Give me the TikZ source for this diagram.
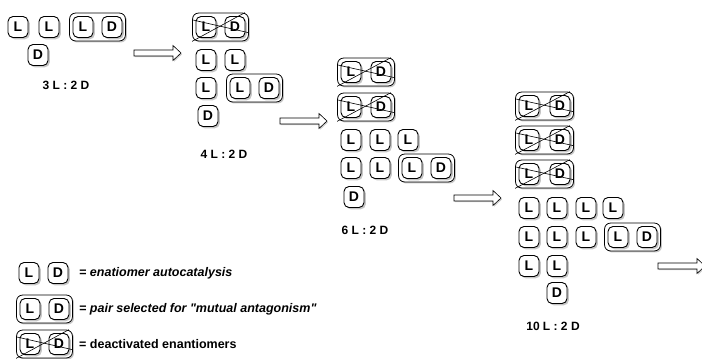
\documentclass[tikz,border=0pt]{standalone}
\usepackage{fontspec}
\setmainfont{Liberation Sans}
\usetikzlibrary{shadows,fit,backgrounds,calc}

\begin{document}
\begin{tikzpicture}[x=1pt,y=-1pt,
    en/.style={draw,line width=0.9pt,rounded corners=5pt,fill=white,
      minimum width=20pt,minimum height=21pt,inner sep=0pt,
      font=\fontsize{14}{14}\selectfont\bfseries,
      drop shadow={shadow xshift=1.8pt,shadow yshift=-1.8pt,opacity=0.45}},
    pair/.style={draw,line width=0.8pt,rounded corners=6pt,fill=white,inner sep=3pt,
      drop shadow={shadow xshift=1.5pt,shadow yshift=-1.5pt,opacity=0.45}},
    ratio/.style={font=\fontsize{12}{14}\selectfont\bfseries},
    keytext/.style={anchor=west,inner sep=0pt,font=\fontsize{12.5}{14}\selectfont\bfseries},
    flow/.style={draw,line width=0.6pt,fill=white,line join=miter,
      drop shadow={shadow xshift=1.2pt,shadow yshift=-1.2pt,opacity=0.4}},
    cross/.style={line width=0.6pt}]
  \useasboundingbox (0,0) rectangle (702,359);

  % hollow arrows between the stages
  \foreach \x/\y in {134/53,280/121,454/198,658/266}
    \draw[flow] (\x,\y-3) -- ++(39,0) -- ++(0,-4.5) -- ++(8,7.5) -- ++(-8,7.5)
      -- ++(0,-4.5) -- ++(-39,0) -- cycle;

  % panel 1
  \node[en] (p1a) at (18,27) {L};
  \node[en] (p1b) at (49,27) {L};
  \node[en] (p1c) at (83,27) {L};
  \node[en] (p1d) at (112,27) {D};
  \node[en] (p1e) at (38,55) {D};
  \begin{pgfonlayer}{background}
    \node[pair,fit=(p1c)(p1d)] (p1pair) {};
  \end{pgfonlayer}
  \node[ratio] (p1ratio) at (66,85) {3 L : 2 D};

  % panel 2
  \node[en] (p2xl) at (206,27) {L};
  \node[en] (p2xd) at (235,27) {D};
  \node[en] (p2a) at (206,60) {L};
  \node[en] (p2b) at (235,60) {L};
  \node[en] (p2c) at (206,88) {L};
  \node[en] (p2d) at (240,88) {L};
  \node[en] (p2e) at (269,88) {D};
  \node[en] (p2f) at (208,116) {D};
  \begin{pgfonlayer}{background}
    \node[pair,fit=(p2xl)(p2xd)] (p2x) {};
    \node[pair,fit=(p2d)(p2e)] (p2pair) {};
  \end{pgfonlayer}
  \draw[cross] (p2x.south west) -- ($(p2x.north east)+(-4,0)$);
  \draw[cross] ($(p2x.north west)!0.25!(p2x.south west)$) -- ($(p2x.north east)!0.7!(p2x.south east)$);
  \node[ratio] (p2ratio) at (224,154) {4 L : 2 D};

  % panel 3
  \foreach \y [count=\i] in {72,107}{
    \node[en] (p3xl\i) at (351,\y) {L};
    \node[en] (p3xd\i) at (381,\y) {D};
    \begin{pgfonlayer}{background}
      \node[pair,fit=(p3xl\i)(p3xd\i)] (p3x\i) {};
    \end{pgfonlayer}
    \draw[cross] (p3x\i.south west) -- ($(p3x\i.north east)+(-4,0)$);
    \draw[cross] ($(p3x\i.north west)!0.25!(p3x\i.south west)$) -- ($(p3x\i.north east)!0.7!(p3x\i.south east)$);
  }
  \foreach \x [count=\i] in {351,380,408}
    \node[en] (p3a\i) at (\x,140) {L};
  \node[en] (p3b1) at (351,168) {L};
  \node[en] (p3b2) at (380,168) {L};
  \node[en] (p3b3) at (412,168) {L};
  \node[en] (p3b4) at (441,168) {D};
  \node[en] (p3c) at (354,197) {D};
  \begin{pgfonlayer}{background}
    \node[pair,fit=(p3b3)(p3b4)] (p3pair) {};
  \end{pgfonlayer}
  \node[ratio] (p3ratio) at (365,230) {6 L : 2 D};

  % panel 4
  \foreach \y [count=\i] in {106,140,174}{
    \node[en] (p4xl\i) at (529,\y) {L};
    \node[en] (p4xd\i) at (560,\y) {D};
    \begin{pgfonlayer}{background}
      \node[pair,fit=(p4xl\i)(p4xd\i)] (p4x\i) {};
    \end{pgfonlayer}
    \draw[cross] (p4x\i.south west) -- ($(p4x\i.north east)+(-4,0)$);
    \draw[cross] ($(p4x\i.north west)!0.25!(p4x\i.south west)$) -- ($(p4x\i.north east)!0.7!(p4x\i.south east)$);
  }
  \foreach \x [count=\i] in {529,557,586,613}
    \node[en] (p4a\i) at (\x,208) {L};
  \foreach \x [count=\i] in {529,557,586}
    \node[en] (p4b\i) at (\x,237) {L};
  \node[en] (p4b4) at (618,237) {L};
  \node[en] (p4b5) at (647,237) {D};
  \node[en] (p4c1) at (529,266) {L};
  \node[en] (p4c2) at (557,266) {L};
  \node[en] (p4d) at (557,293) {D};
  \begin{pgfonlayer}{background}
    \node[pair,fit=(p4b4)(p4b5)] (p4pair) {};
  \end{pgfonlayer}
  \node[ratio] (p4ratio) at (553,326) {10 L : 2 D};

  % legend
  \node[en] (k1l) at (29,273) {L};
  \node[en] (k1d) at (58,273) {D};
  \node[keytext] (k1t) at (79,273) {\itshape = enatiomer autocatalysis};
  \node[en] (k2l) at (30,309) {L};
  \node[en] (k2d) at (59,309) {D};
  \begin{pgfonlayer}{background}
    \node[pair,fit=(k2l)(k2d)] (k2pair) {};
  \end{pgfonlayer}
  \node[keytext] (k2t) at (79,309) {\itshape = pair selected for \textquotedbl mutual antagonism\textquotedbl};
  \node[en] (k3l) at (30,344) {L};
  \node[en] (k3d) at (59,344) {D};
  \begin{pgfonlayer}{background}
    \node[pair,fit=(k3l)(k3d)] (k3x) {};
  \end{pgfonlayer}
  \draw[cross] (k3x.south west) -- ($(k3x.north east)+(-4,0)$);
  \draw[cross] ($(k3x.north west)!0.25!(k3x.south west)$) -- ($(k3x.north east)!0.7!(k3x.south east)$);
  \node[keytext] (k3t) at (79,344) {= deactivated enantiomers};
\end{tikzpicture}
\end{document}
